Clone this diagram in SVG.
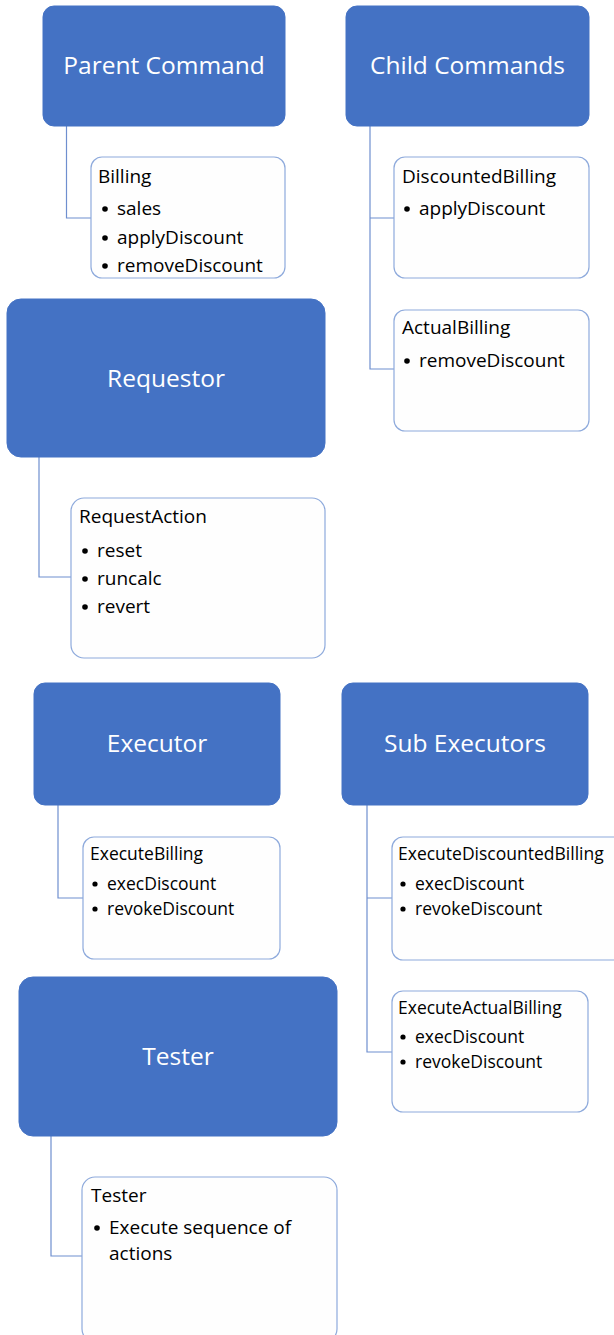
<svg xmlns="http://www.w3.org/2000/svg" width="614" height="1335" viewBox="0 0 614 1335">
<style>
.hd{fill:#4472C4;stroke:#4472C4;stroke-width:1}
.ht{font-family:"Open Sans","DejaVu Sans",sans-serif;font-size:24.5px;fill:#FFFFFF;text-anchor:middle}
.sb{fill:#FEFEFE;stroke:#8EAADC;stroke-width:1.2}
.st{font-family:"Open Sans","DejaVu Sans",sans-serif;font-size:19px;fill:#000000}
.se{font-family:"Open Sans","DejaVu Sans",sans-serif;font-size:17.5px;fill:#000000}
.bu{fill:#000000}
.cn{fill:none;stroke:#6F8FCF;stroke-width:1.2}
</style>
<rect width="614" height="1335" fill="#FFFFFF"/>
<g id="connectors">
<path class="cn" d="M66.5 126 V218 H91"/>
<path class="cn" d="M370 126 V369 H394 M370 218 H394"/>
<path class="cn" d="M39 457 V577 H71"/>
<path class="cn" d="M58 805 V898 H83"/>
<path class="cn" d="M367 805 V1052 H392 M367 898 H392"/>
<path class="cn" d="M51 1136 V1256 H82"/>
</g>
<g id="parent-command">
<rect class="hd" x="43" y="6" width="242" height="120" rx="11"/>
<text class="ht" x="164" y="74">Parent Command</text>
</g>
<g id="billing">
<rect class="sb" x="91" y="157" width="194" height="121" rx="11"/>
<text class="st" x="98" y="183">Billing</text>
<circle class="bu" cx="105" cy="209" r="2.8"/><text class="st" x="117" y="215">sales</text>
<circle class="bu" cx="105" cy="238" r="2.8"/><text class="st" x="117" y="244">applyDiscount</text>
<circle class="bu" cx="105" cy="266" r="2.8"/><text class="st" x="117" y="272">removeDiscount</text>
</g>
<g id="child-commands">
<rect class="hd" x="346" y="6" width="243" height="120" rx="11"/>
<text class="ht" x="467.5" y="74">Child Commands</text>
</g>
<g id="discounted-billing">
<rect class="sb" x="394" y="157" width="195" height="121" rx="11"/>
<text class="st" x="402" y="183">DiscountedBilling</text>
<circle class="bu" cx="407" cy="209" r="2.8"/><text class="st" x="419" y="215">applyDiscount</text>
</g>
<g id="actual-billing">
<rect class="sb" x="394" y="310" width="195" height="121" rx="11"/>
<text class="st" x="402" y="334">ActualBilling</text>
<circle class="bu" cx="407" cy="361" r="2.8"/><text class="st" x="419" y="367">removeDiscount</text>
</g>
<g id="requestor">
<rect class="hd" x="7" y="299" width="318" height="158" rx="14"/>
<text class="ht" x="166" y="387">Requestor</text>
</g>
<g id="request-action">
<rect class="sb" x="71" y="498" width="254" height="160" rx="13"/>
<text class="st" x="79" y="523">RequestAction</text>
<circle class="bu" cx="85" cy="551" r="2.8"/><text class="st" x="97" y="557">reset</text>
<circle class="bu" cx="85" cy="579" r="2.8"/><text class="st" x="97" y="585">runcalc</text>
<circle class="bu" cx="85" cy="607" r="2.8"/><text class="st" x="97" y="613">revert</text>
</g>
<g id="executor">
<rect class="hd" x="34" y="683" width="246" height="122" rx="11"/>
<text class="ht" x="157" y="752">Executor</text>
</g>
<g id="execute-billing">
<rect class="sb" x="83" y="837" width="197" height="122" rx="11"/>
<text class="se" x="90" y="860">ExecuteBilling</text>
<circle class="bu" cx="95" cy="884" r="2.6"/><text class="se" x="107" y="890">execDiscount</text>
<circle class="bu" cx="95" cy="909" r="2.6"/><text class="se" x="107" y="915">revokeDiscount</text>
</g>
<g id="sub-executors">
<rect class="hd" x="342" y="683" width="246" height="122" rx="11"/>
<text class="ht" x="465" y="752">Sub Executors</text>
</g>
<g id="execute-discounted-billing">
<rect class="sb" x="392" y="837" width="234" height="123" rx="11"/>
<text class="se" x="398" y="860">ExecuteDiscountedBilling</text>
<circle class="bu" cx="403" cy="884" r="2.6"/><text class="se" x="415" y="890">execDiscount</text>
<circle class="bu" cx="403" cy="909" r="2.6"/><text class="se" x="415" y="915">revokeDiscount</text>
</g>
<g id="execute-actual-billing">
<rect class="sb" x="392" y="991" width="196" height="121" rx="11"/>
<text class="se" x="398" y="1014">ExecuteActualBilling</text>
<circle class="bu" cx="403" cy="1037" r="2.6"/><text class="se" x="415" y="1043">execDiscount</text>
<circle class="bu" cx="403" cy="1062" r="2.6"/><text class="se" x="415" y="1068">revokeDiscount</text>
</g>
<g id="tester">
<rect class="hd" x="19" y="977" width="318" height="159" rx="14"/>
<text class="ht" x="178" y="1065">Tester</text>
</g>
<g id="tester-detail">
<rect class="sb" x="82" y="1177" width="255" height="165" rx="13"/>
<text class="st" x="91" y="1202">Tester</text>
<circle class="bu" cx="97" cy="1228" r="2.8"/>
<text class="st" x="109" y="1234">Execute sequence of</text>
<text class="st" x="109" y="1260">actions</text>
</g>
</svg>
